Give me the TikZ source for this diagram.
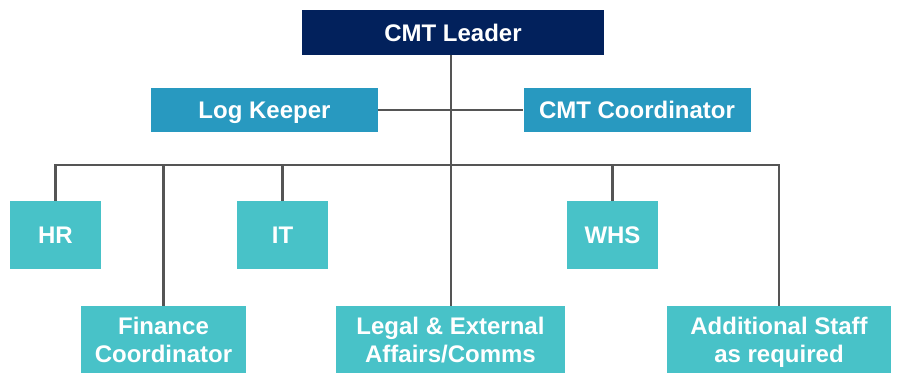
\documentclass[tikz,border=0pt]{standalone}
\usepackage{fontspec}
\setmainfont{Liberation Sans}
\usepackage{tikz}
\usetikzlibrary{positioning}

\definecolor{cmtnavy}{HTML}{02215C}
\definecolor{cmtblue}{HTML}{2899C0}
\definecolor{cmtteal}{HTML}{48C2C8}
\definecolor{cmtline}{HTML}{555555}

\tikzstyle{box} = [rectangle,inner sep=0,align=center,text=white,
                   text depth=0pt,
                   font=\fontsize{24}{28}\selectfont\bfseries]
\tikzstyle{lead} = [box,fill=cmtnavy,minimum width=302,minimum height=45]
\tikzstyle{aide} = [box,fill=cmtblue,minimum width=227,minimum height=44]
\tikzstyle{unit} = [box,fill=cmtteal,minimum width=91,minimum height=68]
\tikzstyle{team} = [box,fill=cmtteal,minimum height=67]
\tikzstyle{wire} = [cmtline,line width=2.2pt]

\begin{document}
\begin{tikzpicture}[x=1pt,y=-1pt]
   \useasboundingbox (0,0) rectangle (898,374);

   % top of the chart
   \node[lead] (leader) at (453,32.5) {CMT Leader};
   \node[aide] (log)   at (264.5,110) {Log Keeper};
   \node[aide] (coord) at (637,110)   {CMT Coordinator};

   % first row of units
   \node[unit] (hr)  at (55.5,235)  {HR};
   \node[unit] (it)  at (282.5,235) {IT};
   \node[unit] (whs) at (612.5,235) {WHS};

   % second row of units
   \node[team,minimum width=165] (fin)   at (163.5,339.5) {Finance\\Coordinator};
   \node[team,minimum width=229] (legal) at (450.5,339.5) {Legal \& External\\Affairs/Comms};
   \node[team,minimum width=224] (extra) at (779,339.5)   {Additional Staff\\as required};

   \coordinate (bus) at (451,165);

   % connectors
   \draw[wire] (leader.south -| bus) -- (bus);
   \draw[wire] (log.east) -- (coord.west);
   \draw[wire] (hr.north) |- (bus) -| (extra.north);
   \draw[wire] (fin.north) -- (fin.north |- bus);
   \draw[wire] (it.north) -- (it.north |- bus);
   \draw[wire] (legal.north -| bus) -- (bus);
   \draw[wire] (whs.north) -- (whs.north |- bus);

\end{tikzpicture}
\end{document}
